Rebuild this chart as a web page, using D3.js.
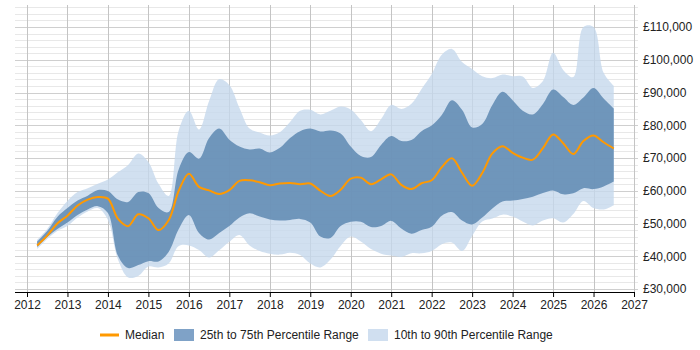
<!DOCTYPE html>
<html><head><meta charset="utf-8">
<script src="https://cdn.jsdelivr.net/npm/d3@7/dist/d3.min.js"></script>
<style>body{margin:0;background:#fff}svg{display:block;font-family:"Liberation Sans",Arial,sans-serif}</style>
</head><body>
<svg id="chart" width="700" height="350"></svg>
<script>
const dates = [2012.25,2012.5,2012.75,2013,2013.25,2013.5,2013.75,2014,2014.25,2014.5,2014.75,2015,2015.25,2015.5,2015.75,2016,2016.25,2016.5,2016.75,2017,2017.25,2017.5,2017.75,2018,2018.25,2018.5,2018.75,2019,2019.25,2019.5,2019.75,2020,2020.25,2020.5,2020.75,2021,2021.25,2021.5,2021.75,2022,2022.25,2022.5,2022.75,2023,2023.25,2023.5,2023.75,2024,2024.25,2024.5,2024.75,2025,2025.25,2025.5,2025.75,2026,2026.25,2026.5];
const median = [43300,46300,50000,52400,55500,57300,58100,57600,51400,49200,52800,51600,48000,51000,60000,65200,61200,60100,59000,60200,63000,63200,62600,61700,62200,62400,62000,62200,60000,58400,60300,63700,64000,62000,63500,65000,61800,60500,62300,63200,67200,69900,65500,61500,65400,71400,73600,71600,70100,69500,73000,77200,74500,71200,75200,76900,74800,72900];
const p25 = [42800,45900,48300,50300,52600,54300,55300,53200,40100,36400,37300,38500,38400,41300,48300,52600,47100,45100,47100,49200,51800,53100,52100,51200,50900,51100,51400,50300,46000,45600,49200,50500,50500,48900,49200,50800,48500,46900,48000,49000,52400,53500,50900,49700,51800,54600,56700,57000,57500,58200,59300,60100,58900,59200,60800,60500,61300,62800];
const p75 = [44500,47700,52000,54700,57000,58500,60200,59900,57300,56600,59600,59300,54700,53500,66600,71800,69800,76100,79000,75600,73500,72600,72900,71700,73100,76100,78200,79000,78100,78400,77500,73500,70600,70300,74000,76700,75200,75500,78200,79900,83100,87600,84700,79300,80400,86200,90200,87600,84400,83300,86500,90900,88600,86200,88500,91400,88200,85100];
const p10 = [42200,45300,47700,49200,51800,53700,54700,51100,38900,33500,34000,36900,36600,37800,43100,43300,41900,39600,41800,44400,46500,43300,41600,40800,40500,41100,40400,37800,36600,39000,43100,46000,44500,42200,40800,40200,39800,40900,40900,41600,43700,44200,41600,46200,50600,51500,52700,52100,50600,49400,50900,51600,50300,52900,56900,54700,54300,55600];
const p90 = [45000,48300,53100,56900,59600,60800,62100,63400,65700,67900,71400,68800,62100,58400,78500,84400,78700,87400,94100,92300,85300,79000,77800,76900,77900,81000,84400,84700,83300,84400,85700,84800,81600,78200,81900,86200,85000,86600,91100,95600,101500,103300,99300,97200,95000,94400,95500,95000,94900,91400,93500,102100,96900,94700,110000,110000,96000,92000];
const xTickYears = [2012,2013,2014,2015,2016,2017,2018,2019,2020,2021,2022,2023,2024,2025,2026,2027];
const yTickValues = [30000,40000,50000,60000,70000,80000,90000,100000,110000];
const legendLabels = ["Median","25th to 75th Percentile Range","10th to 90th Percentile Range"];

const svg = d3.select("#chart");
const x = d3.scaleLinear().domain([2012,2027]).range([27,634]);
const y = d3.scaleLinear().domain([30000,110000]).range([289,27]);
const plotLeft = 15, plotRight = 634, plotTop = 5, plotBottom = 292;
const FONT = '"Liberation Sans",Arial,sans-serif';

const data = dates.map((d,i)=>({d, m:median[i], a:p10[i], b:p25[i], c:p75[i], e:p90[i]}));

// gridlines
const g = svg.append("g");
const minor = d3.range(30000, 116001, 2000);
g.selectAll("line.h").data(minor).join("line")
  .attr("x1", plotLeft).attr("x2", plotRight+4)
  .attr("y1", d=>Math.round(y(d))+0.5).attr("y2", d=>Math.round(y(d))+0.5)
  .attr("stroke", d => d%10000===0 ? "#cfcfcf" : "#e8e8e8").attr("stroke-width",1);
g.selectAll("line.v").data(xTickYears.slice(0,-1)).join("line")
  .attr("x1", d=>Math.round(x(d))+0.5).attr("x2", d=>Math.round(x(d))+0.5)
  .attr("y1", plotTop).attr("y2", plotBottom)
  .attr("stroke", "#c4c4c4");

// bands
const curve = d3.curveCatmullRom.alpha(0.5);
svg.append("path").datum(data)
  .attr("d", d3.area().curve(curve).x(d=>x(d.d)).y0(d=>y(d.a)).y1(d=>y(d.e)))
  .attr("fill", "#c6d8ec").attr("fill-opacity", 0.8);
svg.append("path").datum(data)
  .attr("d", d3.area().curve(curve).x(d=>x(d.d)).y0(d=>y(d.b)).y1(d=>y(d.c)))
  .attr("fill", "#5e88b2").attr("fill-opacity", 0.85);
svg.append("path").datum(data)
  .attr("d", d3.line().curve(curve).x(d=>x(d.d)).y(d=>y(d.m)))
  .attr("fill", "none").attr("stroke", "#ff9900").attr("stroke-width", 2);

// right axis
svg.append("line").attr("x1", plotRight+0.5).attr("x2", plotRight+0.5).attr("y1", plotTop).attr("y2", plotBottom).attr("stroke", "#c4c4c4");
const yAxis = d3.axisRight(y).tickValues(yTickValues).tickSize(0).tickPadding(0)
  .tickFormat(d => "£" + d3.format(",")(d));
svg.append("g").attr("transform", "translate(643,0)").call(yAxis)
  .call(s=>s.select(".domain").remove())
  .call(s=>s.selectAll("text").attr("font-size", 12).attr("fill", "#222").attr("font-family", FONT));

// bottom axis
const xAxis = d3.axisBottom(x).tickValues(xTickYears).tickSize(5).tickPadding(3).tickFormat(d3.format("d"));
const xa = svg.append("g").attr("transform", `translate(0,${plotBottom})`).call(xAxis);
xa.select(".domain").attr("d", `M${plotLeft},0.5H${plotRight}`).attr("stroke", "#000");
xa.selectAll(".tick line").attr("stroke", "#000");
xa.selectAll("text").attr("font-size", 12).attr("fill", "#222").attr("font-family", FONT);

// legend
const lg = svg.append("g").attr("font-size", 12).attr("fill", "#222").attr("font-family", FONT);
lg.append("line").attr("x1", 100).attr("x2", 119).attr("y1", 335).attr("y2", 335).attr("stroke", "#ff9900").attr("stroke-width", 3);
lg.append("text").attr("x", 125).attr("y", 339).text(legendLabels[0]);
lg.append("rect").attr("x", 174).attr("y", 329).attr("width", 20).attr("height", 12).attr("fill", "#7fa2c7");
lg.append("text").attr("x", 200).attr("y", 339).text(legendLabels[1]);
lg.append("rect").attr("x", 368).attr("y", 329).attr("width", 20).attr("height", 12).attr("fill", "#d0dff0");
lg.append("text").attr("x", 394).attr("y", 339).text(legendLabels[2]);
</script>
</body></html>
